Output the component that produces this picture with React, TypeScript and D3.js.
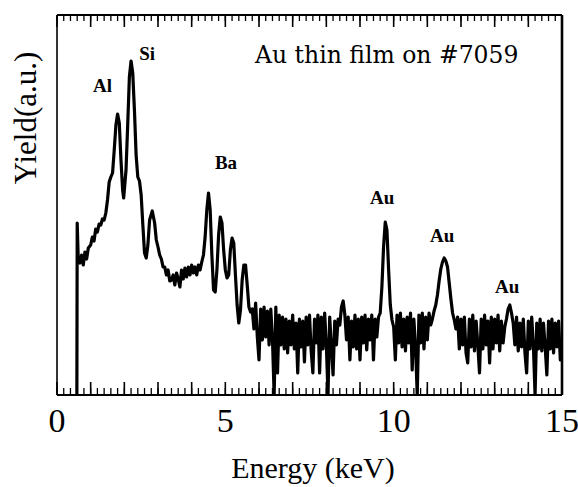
import React from "react";
import * as d3 from "d3";

// Spectrum: energy (keV) and yield (arbitrary units)
const energy = [
  0.59, 0.6, 0.63, 0.68, 0.73, 0.78, 0.83, 0.88, 0.93, 1.0, 1.05, 1.1, 1.15, 1.2, 1.25, 1.3, 1.35, 1.4, 1.45,
  1.5, 1.55, 1.6, 1.65, 1.7, 1.75, 1.8, 1.85, 1.9, 1.95, 1.98, 2.05, 2.1, 2.15, 2.2, 2.25, 2.3, 2.35, 2.4,
  2.45, 2.5, 2.55, 2.6, 2.65, 2.7, 2.75, 2.83, 2.9, 2.95, 3.0, 3.05, 3.1, 3.15, 3.2, 3.25, 3.3, 3.35, 3.4,
  3.45, 3.5, 3.55, 3.6, 3.65, 3.7, 3.75, 3.8, 3.85, 3.9, 3.95, 4.0, 4.05, 4.1, 4.15, 4.2, 4.25, 4.3, 4.35,
  4.4, 4.45, 4.5, 4.55, 4.6, 4.65, 4.7, 4.75, 4.8, 4.85, 4.9, 4.95, 5.0, 5.05, 5.1, 5.15, 5.2, 5.25, 5.3,
  5.35, 5.4, 5.45, 5.5, 5.55, 5.6, 5.65, 5.7, 5.75,
  5.8, 5.85, 5.9, 5.95, 6.0, 6.05, 6.1, 6.15, 6.2, 6.25, 6.3, 6.35, 6.4, 6.45, 6.5, 6.55, 6.6, 6.65, 6.7,
  6.75, 6.8, 6.85, 6.9, 6.95, 7.0, 7.05, 7.1, 7.15, 7.2, 7.25, 7.3, 7.35, 7.4, 7.45, 7.5, 7.55, 7.6, 7.65,
  7.7, 7.75, 7.8, 7.85, 7.9, 7.95, 8.0, 8.05, 8.1, 8.15, 8.2, 8.25, 8.3, 8.35, 8.4, 8.45, 8.5, 8.55, 8.6,
  8.65, 8.7, 8.75, 8.8, 8.85, 8.9, 8.95, 9.0, 9.05, 9.1, 9.15, 9.2, 9.25, 9.3, 9.35, 9.4, 9.45, 9.5, 9.55,
  9.6, 9.65, 9.7, 9.75, 9.8, 9.85, 9.9, 9.95, 10.0, 10.05, 10.1, 10.15, 10.2, 10.25, 10.3, 10.35, 10.4,
  10.45, 10.5, 10.55, 10.6, 10.65, 10.7, 10.75, 10.8, 10.85, 10.9, 10.95, 11.0, 11.05, 11.1, 11.15, 11.2,
  11.25, 11.3, 11.35, 11.4, 11.45, 11.5, 11.55, 11.6, 11.65, 11.7, 11.75, 11.8, 11.85, 11.9, 11.95, 12.0,
  12.05, 12.1, 12.15, 12.2, 12.25, 12.3, 12.35, 12.4, 12.45, 12.5, 12.55, 12.6, 12.65, 12.7, 12.75, 12.8,
  12.85, 12.9, 12.95, 13.0, 13.05, 13.1, 13.15, 13.2, 13.25, 13.3, 13.35, 13.4, 13.45, 13.5, 13.55, 13.6,
  13.65, 13.7, 13.75, 13.8, 13.85, 13.9, 13.95, 14.0, 14.05, 14.1, 14.15, 14.2, 14.25, 14.3, 14.35, 14.4,
  14.45, 14.5, 14.55, 14.6, 14.65, 14.7, 14.75, 14.8, 14.85, 14.9, 14.95, 15.0,
];

const counts = [
  0, 172, 137, 132, 140, 130, 143, 136, 147, 150, 158, 154, 166, 163, 171, 170, 176, 175, 182,
  195, 213, 218, 222, 245, 270, 281, 272, 235, 205, 197, 225, 270, 318, 334, 322, 285, 240, 218,
  214, 200, 170, 142, 137, 150, 175, 184, 172, 155, 148, 140, 136, 128, 128, 120, 125, 114, 115,
  120, 110, 122, 116, 108, 125, 116, 127, 118, 128, 120, 130, 122, 128, 120, 130, 125, 133, 140,
  158, 185, 202, 185, 140, 105, 103, 125, 160, 178, 172, 145, 125, 117, 120, 145, 157, 152, 120,
  90, 72, 85, 115, 130, 130, 110, 88, 83,
  86, 66, 92, 58, 35, 86, 55, 88, 58, 84, 50, 86, 56, 0, 88, 22, 80, 50, 78,
  46, 76, 42, 74, 50, 80, 46, 72, 22, 76, 48, 74, 33, 78, 50, 80, 44, 22, 76,
  52, 80, 22, 78, 46, 82, 50, 0, 78, 48, 20, 74, 50, 76, 70, 88, 94, 80, 55,
  78, 35, 74, 48, 80, 46, 76, 35, 78, 52, 80, 45, 76, 55, 80, 35, 76, 58, 78,
  82, 108, 148, 173, 165, 125, 90, 75, 68, 35, 80, 52, 82, 48, 76, 44, 78,
  52, 82, 25, 76, 48, 0, 80, 52, 82, 46, 78, 55, 82, 70, 76, 84,
  90, 100, 114, 126, 133, 137, 134, 128, 112, 96, 82, 75, 66, 78, 46, 76,
  50, 78, 42, 32, 76, 48, 80, 44, 74, 50, 22, 76, 46, 80, 50, 74,
  32, 78, 46, 76, 52, 80, 44, 74, 52, 68, 76, 86, 90, 82, 72, 50,
  78, 44, 72, 48, 76, 42, 22, 74, 46, 78, 50, 0, 72, 46, 76, 44,
  72, 48, 20, 74, 46, 76, 42, 72, 48, 74, 35, 55,
];

const xTickLabels = [0, 5, 10, 15];
const peakNames = ["Al", "Si", "Ba", "Au", "Au", "Au"];
const peakLabelEnergy = [1.07, 2.44, 4.69, 9.3, 11.08, 13.01];
const peakLabelYield = [303, 335, 226, 191, 153, 102];
const titleText = "Au thin film on #7059";
const xAxisTitle = "Energy (keV)";
const yAxisTitle = "Yield(a.u.)";

const W = 578;
const H = 487;
const M = { left: 57, right: 562, top: 15, bottom: 395 };

export default function App() {
  const x = d3.scaleLinear().domain([0, 15]).range([M.left, M.right]);
  const y = d3.scaleLinear().domain([0, 380]).range([M.bottom, M.top]);

  const pts: [number, number][] = energy.map((e, i) => [e, counts[i]]);
  const line = d3
    .line<[number, number]>()
    .x((d) => x(d[0]))
    .y((d) => y(d[1]));

  const minor = d3.range(0, 15.0001, 0.2).map((v) => +v.toFixed(2));
  const major = d3.range(0, 16, 1);

  const serif = "Liberation Serif";

  return (
    <svg
      width={W}
      height={H}
      style={{ position: "absolute", left: 0, top: 0, background: "#fff" }}
    >
      <defs>
        <clipPath id="plotclip">
          <rect x={M.left} y={M.top} width={M.right - M.left} height={M.bottom - M.top} />
        </clipPath>
      </defs>
      <rect x={0} y={0} width={W} height={H} fill="#fff" />

      {minor.map((v, i) => (
        <g key={"mi" + i} stroke="#000" strokeWidth={1.3}>
          <line x1={x(v)} x2={x(v)} y1={M.top} y2={M.top + 6} />
          <line x1={x(v)} x2={x(v)} y1={M.bottom} y2={M.bottom - 7} />
        </g>
      ))}
      {major.map((v, i) => (
        <g key={"ma" + i} stroke="#000" strokeWidth={1.6}>
          <line x1={x(v)} x2={x(v)} y1={M.top} y2={M.top + 12} />
          <line x1={x(v)} x2={x(v)} y1={M.bottom} y2={M.bottom - 13} />
        </g>
      ))}

      <path
        d={line(pts) || ""}
        fill="none"
        stroke="#000"
        strokeWidth={3.2}
        strokeLinejoin="round"
        clipPath="url(#plotclip)"
      />

      <line x1={M.left} x2={M.right} y1={M.top} y2={M.top} stroke="#000" strokeWidth={2} />
      <line x1={M.left} x2={M.right} y1={M.bottom} y2={M.bottom} stroke="#000" strokeWidth={2} />
      <line x1={M.left} x2={M.left} y1={M.top} y2={M.bottom} stroke="#000" strokeWidth={1.6} />
      <line x1={M.right} x2={M.right} y1={M.top} y2={M.bottom} stroke="#000" strokeWidth={2.6} />

      {xTickLabels.map((v) => (
        <text
          key={"xl" + v}
          x={x(v)}
          y={432}
          textAnchor="middle"
          style={{ fontFamily: serif }}
          fontSize={34}
          fill="#000"
        >
          {v}
        </text>
      ))}

      <text x={313} y={478} textAnchor="middle" style={{ fontFamily: serif }} fontSize={30} fill="#000">
        {xAxisTitle}
      </text>
      <text
        transform={`translate(36,118) rotate(-90)`}
        textAnchor="middle"
        style={{ fontFamily: serif }}
        fontSize={31}
        fill="#000"
      >
        {yAxisTitle}
      </text>

      <text x={255} y={63} style={{ fontFamily: "DejaVu Serif" }} fontSize={23.5} fill="#000">
        {titleText}
      </text>

      {peakNames.map((n, i) => (
        <text
          key={"pk" + i}
          x={x(peakLabelEnergy[i])}
          y={y(peakLabelYield[i])}
          style={{ fontFamily: serif }}
          fontWeight="bold"
          fontSize={19}
          fill="#000"
        >
          {n}
        </text>
      ))}
    </svg>
  );
}
